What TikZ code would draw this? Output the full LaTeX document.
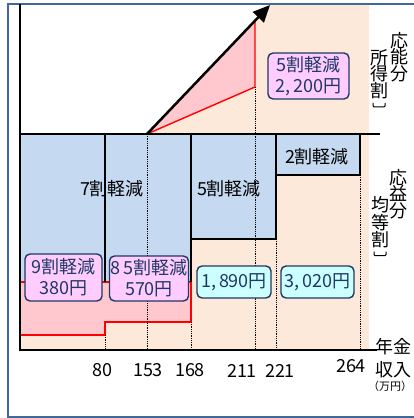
\documentclass[tikz,border=0pt]{standalone}
\usepackage{fontspec}
\setmainfont{Noto Sans CJK JP}
\usetikzlibrary{arrows.meta,calc,positioning}
\definecolor{peach}{HTML}{FDE9D9}
\definecolor{paleblue}{HTML}{C5D9F1}
\definecolor{palered}{HTML}{FFC7CE}
\definecolor{bubblepink}{HTML}{FFCCFF}
\definecolor{bubblecyan}{HTML}{CCFFFF}
\definecolor{navy}{HTML}{1F3864}
\definecolor{framecol}{HTML}{41679B}
\begin{document}
\begin{tikzpicture}[
			x=1pt, y=-1pt,
			font=\fontsize{18}{16.6}\selectfont,
			rule/.style={line width=1.5pt},
			guide/.style={densely dotted, line width=0.8pt},
			bubble/.style={rectangle, rounded corners=5pt, draw=navy, line width=1.4pt, text=navy, align=center, inner sep=1pt, font=\fontsize{18}{21}\selectfont},
			vtext/.style={align=center, inner sep=0pt},
			unit/.style={font=\fontsize{11}{12}\selectfont},
			bracket/.style={line width=1pt, rounded corners=1pt}
			]
			\useasboundingbox (0,0) rectangle (414,418);
			\draw[framecol, line width=1.5pt] (8,4) rectangle (430,417);
			
			\coordinate (o) at (147,134);
			\coordinate (tip) at (270,5);
			\coordinate (r1) at ($(o)!0.878!(tip)$);
			\coordinate (r2) at (255,87);
			
			\fill[peach] (20,350) -- (20,134) -- (o) -- (tip) -- (369,5) -- (369,350) -- cycle;
			\filldraw[fill=palered, draw=red, line width=1.4pt] (o) -- (r1) -- (r2) -- cycle;
			\fill[paleblue] (20,134) rectangle (191,282);
			\fill[paleblue] (191,134) rectangle (276,239);
			\fill[paleblue] (276,134) rectangle (360,175);
			\filldraw[fill=palered, draw=red, line width=1.4pt] (20,282) -- (191,282) -- (191,322) -- (105,322) -- (105,335) -- (20,335);
			
			\draw[rule] (105,134) -- (105,282);
			\draw[rule] (191,134) -- (191,282);
			\draw[rule] (276,134) -- (276,239) -- (191,239);
			\draw[rule] (360,134) -- (360,175) -- (276,175);
			
			\draw[guide] (105,335) -- (105,350);
			\draw[guide] (o) -- (147,350);
			\draw[guide] (191,322) -- (191,350);
			\draw[guide] (r2) -- (255,350);
			\draw[guide] (276,239) -- (276,350);
			\draw[guide] (360,175) -- (360,350);
			
			\draw[line width=2pt] (20,4) -- (20,350) -- (377,350);
			\draw[line width=2pt] (20,134) -- (380,134);
			\draw[line width=2.5pt, -{Triangle[length=17pt,width=15pt]}] (o) -- (tip);
			
			\node (seven) at (112,189) {7割軽減};
			\node (five) at (229,189) {5割軽減};
			\node (two) at (317,157) {2割軽減};
			
			\node[bubble, fill=bubblepink, minimum width=81pt, minimum height=46pt] (b50) at (308.5,76) {5割軽減\\2,\,200円};
			\node[bubble, fill=bubblepink, minimum width=77pt, minimum height=47pt] (b90) at (63.5,277.5) {9割軽減\\380円};
			\node[bubble, fill=bubblepink, minimum width=78pt, minimum height=45pt] (b85) at (149,278.5) {8\,5割軽減\\570円};
			\node[bubble, fill=bubblecyan, minimum width=74pt, minimum height=32pt] (b18) at (234,282) {1,\,890円};
			\node[bubble, fill=bubblecyan, minimum width=73pt, minimum height=32pt] (b30) at (317.5,282) {3,\,020円};
			
			\node (n80) at (102,370) {80};
			\node (n153) at (148,370) {153};
			\node (n168) at (190,370) {168};
			\node (n211) at (242,371) {211};
			\node (n221) at (280,371) {221};
			\node (n264) at (351,366) {264};
			
			\node (nen) at (393,347) {年金};
			\node (shu) [below=-1pt of nen] {収入};
			\node[unit] (man) [below=-4pt of shu, xshift=-3pt] {（万円）};
			
			\node[vtext] (nou) at (399,57) {応\\能\\分};
			\node[vtext] (shotoku) at (379,74) {所\\得\\割};
			\draw[bracket] ([xshift=-6pt, yshift=-4pt]shotoku.south) -- ([xshift=-6pt, yshift=-8pt]shotoku.south) -- ([xshift=6pt, yshift=-8pt]shotoku.south) -- ([xshift=6pt, yshift=-4pt]shotoku.south);
			\node[vtext] (eki) at (398,194) {応\\益\\分};
			\node[vtext] (kinto) at (380,222) {均\\等\\割};
			\draw[bracket] ([xshift=-6pt, yshift=-4pt]kinto.south) -- ([xshift=-6pt, yshift=-8pt]kinto.south) -- ([xshift=6pt, yshift=-8pt]kinto.south) -- ([xshift=6pt, yshift=-4pt]kinto.south);
		\end{tikzpicture}
\end{document}
